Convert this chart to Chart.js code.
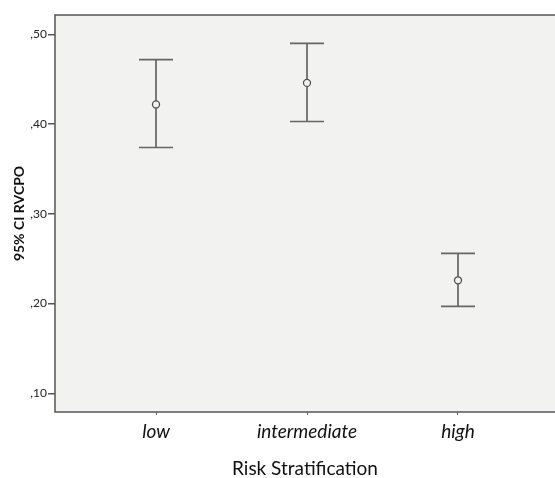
<!DOCTYPE html>
<html>
<head>
<meta charset="utf-8">
<script src="https://cdn.jsdelivr.net/npm/chart.js@4"></script>
<style>
  html, body { margin: 0; padding: 0; background: #fff; overflow: hidden; }
  #wrap { width: 555px; height: 478px; }
</style>
</head>
<body>
<div id="wrap"><canvas id="ciChart" width="555" height="478"></canvas></div>
<script>
var categories = ["low", "intermediate", "high"];
var means = [0.422, 0.446, 0.226];
var lower = [0.374, 0.403, 0.197];
var upper = [0.472, 0.490, 0.256];
var yTicks = [0.1, 0.2, 0.3, 0.4, 0.5];

// plot area background + frame, then the CI whiskers
var errorBars = {
  id: 'errorBars',
  beforeDatasetsDraw: function(chart) {
    var ctx = chart.ctx, a = chart.chartArea;
    ctx.save();
    ctx.fillStyle = '#f2f2f1';
    ctx.fillRect(a.left, a.top, a.right - a.left + 2, a.bottom - a.top);
    ctx.strokeStyle = '#555555';
    ctx.lineWidth = 1.5;
    ctx.beginPath();
    ctx.moveTo(a.right + 2, a.top);
    ctx.lineTo(a.left, a.top);
    ctx.lineTo(a.left, a.bottom);
    ctx.lineTo(a.right + 2, a.bottom);
    ctx.stroke();

    var xs = chart.scales.x, ys = chart.scales.y;
    ctx.strokeStyle = '#666666';
    ctx.lineWidth = 1.7;
    for (var i = 0; i < categories.length; i++) {
      var x = xs.getPixelForValue(i + 1);
      var yl = ys.getPixelForValue(lower[i]);
      var yu = ys.getPixelForValue(upper[i]);
      ctx.beginPath();
      ctx.moveTo(x, yl); ctx.lineTo(x, yu);
      ctx.moveTo(x - 17, yl); ctx.lineTo(x + 17, yl);
      ctx.moveTo(x - 17, yu); ctx.lineTo(x + 17, yu);
      ctx.stroke();
    }
    ctx.restore();
  }
};

var ctx = document.getElementById("ciChart").getContext('2d');
var myChart = new Chart(ctx, {
  type: 'scatter',
  data: {
    datasets: [{
      data: means.map(function(m, i) { return { x: i + 1, y: m }; }),
      pointRadius: 3.5,
      pointBorderWidth: 1.3,
      pointBorderColor: '#505050',
      pointBackgroundColor: '#f2f2f1'
    }]
  },
  options: {
    responsive: false,
    animation: false,
    layout: { autoPadding: false, padding: { top: 15, right: 0, left: 0, bottom: 0 } },
    plugins: { legend: { display: false }, tooltip: { enabled: false } },
    scales: {
      x: {
        type: 'linear',
        min: 0.3311,
        max: 3.6424,
        afterFit: function(s) { s.height = 66; s.paddingLeft = 0; s.paddingRight = 0; },
        afterBuildTicks: function(s) { s.ticks = [1, 2, 3].map(function(v) { return { value: v }; }); },
        border: { display: false },
        grid: { drawOnChartArea: false, drawTicks: true, tickLength: 3, color: '#666666' },
        ticks: {
          padding: 5,
          color: '#111111',
          font: { family: 'Lato', size: 19, style: 'italic' },
          callback: function(v) { return categories[v - 1]; }
        },
        title: {
          display: true,
          text: 'Risk Stratification',
          color: '#111111',
          padding: { top: 0, bottom: 0 },
          font: { family: 'Lato', size: 19, lineHeight: 1.0 }
        }
      },
      y: {
        min: 0.0792,
        max: 0.5217,
        afterFit: function(s) { s.width = 55; },
        afterBuildTicks: function(s) { s.ticks = yTicks.map(function(v) { return { value: v }; }); },
        border: { display: false },
        grid: { drawOnChartArea: false, drawTicks: true, tickLength: 7, color: '#555555', lineWidth: 1.5 },
        ticks: {
          padding: 1,
          color: '#222222',
          font: { family: 'Lato', size: 12 },
          callback: function(v) { return ',' + Math.round(v * 100); }
        },
        title: {
          display: true,
          text: '95% CI RVCPO',
          color: '#111111',
          padding: { top: 11, bottom: 0 },
          font: { family: 'Lato', size: 14, weight: 'bold' }
        }
      }
    }
  },
  plugins: [errorBars]
});
</script>
</body>
</html>
